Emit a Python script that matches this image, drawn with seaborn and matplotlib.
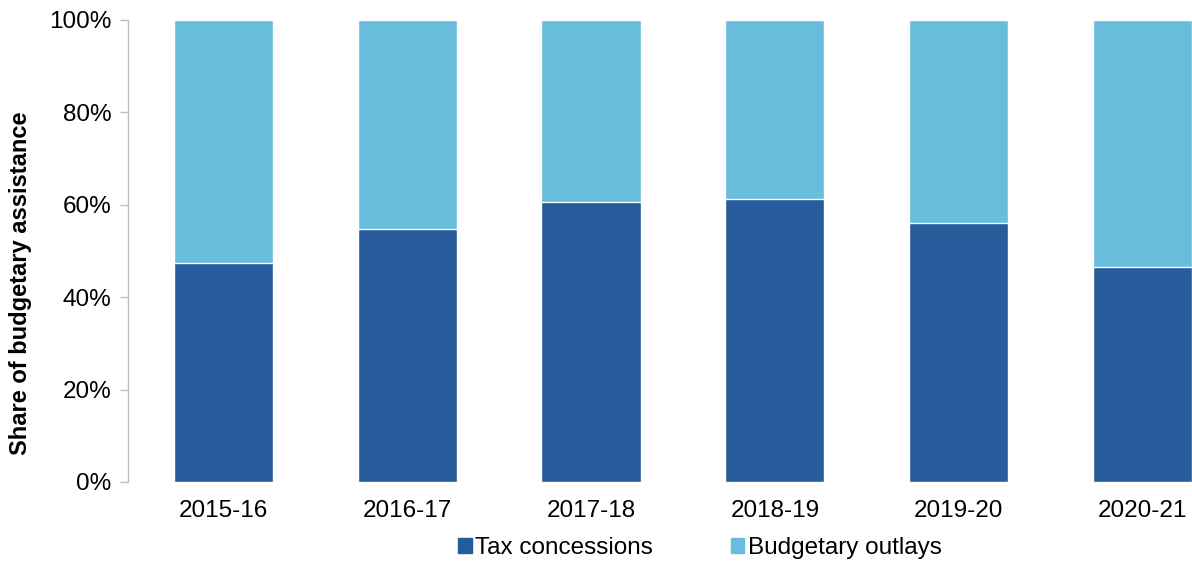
import numpy as np
import pandas as pd
import seaborn as sns
import matplotlib
matplotlib.use('Agg')
import matplotlib.pyplot as plt
from matplotlib.patches import Patch

# Données (part en %)
years = ['2015-16', '2016-17', '2017-18', '2018-19', '2019-20', '2020-21']
tax_concessions = [47.3, 54.8, 60.5, 61.3, 56.1, 46.6]
budgetary_outlays = [100 - v for v in tax_concessions]

dark = '#275B9B'
light = '#67BDDB'

sns.set_theme(style='white')
plt.rcParams['font.family'] = ['Liberation Sans', 'DejaVu Sans']
plt.rcParams['text.color'] = 'black'
plt.rcParams['xtick.color'] = 'black'
plt.rcParams['ytick.color'] = 'black'
plt.rcParams['axes.labelcolor'] = 'black'

df = pd.DataFrame({'year': years,
                   'tax': tax_concessions,
                   'total': np.array(tax_concessions) + np.array(budgetary_outlays)})

fig = plt.figure(figsize=(11.92, 5.62), dpi=100)
ax = fig.add_axes([128 / 1192, 1 - 482 / 562, 1 - 128 / 1192, 462 / 562])

sns.barplot(data=df, x='year', y='total', color=light, width=0.54, saturation=1, ax=ax)
sns.barplot(data=df, x='year', y='tax', color=dark, width=0.54, saturation=1, ax=ax)

ax.set_ylim(0, 100)
ax.set_xlim(-0.52, 5.27)
ax.set_yticks(range(0, 101, 20))
ax.set_yticklabels([f'{v}%' for v in range(0, 101, 20)], fontsize=17.5)
ax.tick_params(axis='x', labelsize=17.5, length=0, pad=13)
ax.tick_params(axis='y', length=6, width=1, color='#BFBFBF', labelcolor='black',
               direction='out', pad=6, left=True)
ax.set_xlabel('')
ax.set_ylabel('Share of budgetary assistance', fontsize=17, fontweight='bold')
ax.yaxis.set_label_coords(-0.0905, 0.43)

for s in ['top', 'right', 'bottom']:
    ax.spines[s].set_visible(False)
ax.spines['left'].set_color('#BFBFBF')
ax.spines['left'].set_linewidth(1)

handles = [Patch(color=dark, label='Tax concessions'),
           Patch(color=light, label='Budgetary outlays')]
fig.legend(handles=handles, loc='center', bbox_to_anchor=(700 / 1192, 1 - 548 / 562),
           ncol=2, frameon=False, fontsize=17.5, handlelength=0.55, handleheight=0.55,
           handletextpad=0.15, columnspacing=3.2)

fig.savefig('out.png', dpi=100)
